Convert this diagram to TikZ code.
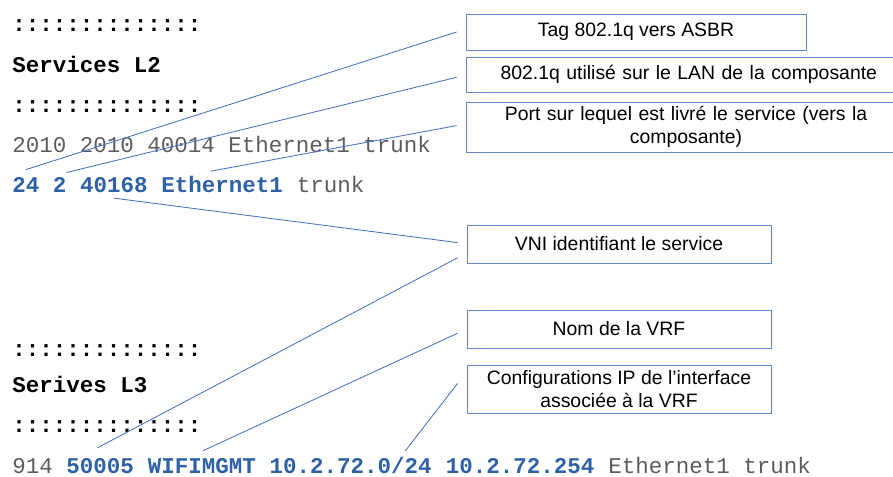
\documentclass[tikz,border=0pt]{standalone}
\usepackage{fontspec}
\setmainfont{Liberation Sans}
\setmonofont{Liberation Mono}
\usetikzlibrary{positioning}

\definecolor{cfgblue}{RGB}{47,97,166}
\definecolor{linkblue}{RGB}{68,114,196}
\definecolor{cfggray}{RGB}{92,92,92}

\tikzset{
  cfg/.style={anchor=base west, inner sep=0pt, font=\fontsize{16}{18}\selectfont\ttfamily},
  hdr/.style={cfg, font=\fontsize{16}{18}\selectfont\ttfamily\bfseries},
  val/.style={cfg, text=cfgblue, font=\fontsize{16}{18}\selectfont\ttfamily\bfseries},
  plain/.style={cfg, text=cfggray},
  note/.style={draw=linkblue!85, line width=0.6pt, align=center, inner sep=0pt,
    font=\fontsize{13.8}{16.5}\selectfont},
  link/.style={draw=linkblue, line width=0.6pt}
}

% one monospace character, in px
\def\cw{13.55}

\begin{document}
\begin{tikzpicture}[x=0.025cm, y=-0.025cm]
        \useasboundingbox (0,0) rectangle (893,476);

        % Services L2
        \node[hdr] (sepa) at (12,31) {::::::::::::::};
        \node[hdr] (titlea) at (12,72) {Services L2};
        \node[hdr] (sepb) at (12,112) {::::::::::::::};
        \node[plain] (exa) at (12,152) {2010 2010 40014 Ethernet1 trunk};

        \node[val] (tag) at (12,192) {24};
        \node[val] (lan) at ({12+3*\cw},192) {2};
        \node[val] (vni) at ({12+5*\cw},192) {40168};
        \node[val] (port) at ({12+11*\cw},192) {Ethernet1};
        \node[plain] (mode) at ({12+21*\cw},192) {trunk};

        % Services L3
        \node[hdr] (sepc) at (12,356) {::::::::::::::};
        \node[hdr] (titleb) at (12,392) {Serives L3};
        \node[hdr] (sepd) at (12,432) {::::::::::::::};

        \node[plain] (id) at (12,473) {914};
        \node[val] (vnib) at ({12+4*\cw},473) {50005};
        \node[val] (vrf) at ({12+10*\cw},473) {WIFIMGMT};
        \node[val] (subnet) at ({12+19*\cw},473) {10.2.72.0/24};
        \node[val] (gw) at ({12+32*\cw},473) {10.2.72.254};
        \node[plain] (portb) at ({12+44*\cw},473) {Ethernet1 trunk};

        % notes
        \node[note, minimum width=340*0.025cm, minimum height=36*0.025cm] (tagbox) at (636,32) {Tag 802.1q vers ASBR};
        \node[note, minimum width=440*0.025cm, minimum height=35*0.025cm, text width=427*0.025cm] (lanbox) at (686,74.5) {\hspace*{4pt}802.1q utilisé sur le LAN de la composante};
        \node[note, minimum width=440*0.025cm, minimum height=50*0.025cm, text width=427*0.025cm] (portbox) at (686,127) {Port sur lequel est livré le service (vers la\\composante)};
        \node[note, minimum width=304*0.025cm, minimum height=38*0.025cm] (vnibox) at (619,244) {VNI identifiant le service};
        \node[note, minimum width=304*0.025cm, minimum height=38*0.025cm] (vrfbox) at (619,329) {Nom de la VRF};
        \node[note, minimum width=304*0.025cm, minimum height=48*0.025cm] (ipbox) at (619,389) {Configurations IP de l’interface\\associée à la VRF};

        % connectors
        \draw[link] ([yshift=5pt]tag.north) -- ([xshift=-6.4pt]tagbox.west);
        \draw[link] ([yshift=3pt]lan.north east) -- ([xshift=-6.4pt,yshift=-2pt]lanbox.west);
        \draw[link] ([xshift=-8pt,yshift=3pt]port.north) -- ([xshift=-6.4pt,yshift=1pt]portbox.west);
        \draw[link] ([yshift=-4pt]vni.south) -- ([xshift=-6.4pt,yshift=1pt]vnibox.west);

        \draw[link] ([xshift=-2pt,yshift=7pt]vnib.north) -- ([xshift=-6.4pt,yshift=4pt]vnibox.south west);
        \draw[link] ([xshift=1pt,yshift=5pt]vrf.north) -- ([xshift=-6.4pt,yshift=-3pt]vrfbox.west);
        \draw[link] ([xshift=-19pt,yshift=4pt]subnet.north east) -- ([xshift=-6.4pt,yshift=4pt]ipbox.west);

\end{tikzpicture}
\end{document}
